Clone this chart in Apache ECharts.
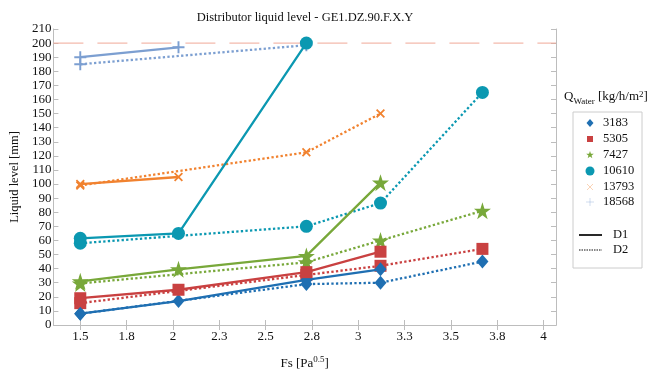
<!DOCTYPE html>
<html>
<head>
<meta charset="utf-8">
<script src="https://cdn.jsdelivr.net/npm/echarts@6/dist/echarts.min.js"></script>
<style>
  html, body { margin: 0; padding: 0; background: #fff; }
  #chart { width: 647px; height: 375px; }
</style>
</head>
<body>
<div id="chart"></div>
<script>
// Fs values where the level was measured
const fs = [1.5, 2.03, 2.72, 3.12, 3.67];
const xTickValues = [1.5, 1.75, 2, 2.25, 2.5, 2.75, 3, 3.25, 3.5, 3.75, 4];
const xTickLabels = ['1.5', '1.8', '2', '2.3', '2.5', '2.8', '3', '3.3', '3.5', '3.8', '4'];
const xMin = 1.355, xMax = 4.067;

const qWater = ['3183', '5305', '7427', '10610', '13793', '18568'];
const lineTypes = ['D1', 'D2'];

// D1 (solid), one array per water load, null = not measured
const d1_3183 = [8, 17, 32, 39.5, null];
const d1_5305 = [19, 25, 37.5, 52, null];
const d1_7427 = [31, 39.5, 49, 101, null];
const d1_10610 = [61.5, 65, 200, null, null];
const d1_13793 = [100, 105, null, null, null];
const d1_18568 = [190, 197, null, null, null];

// D2 (dotted)
const d2_3183 = [8, null, 29, 30, 45];
const d2_5305 = [15.5, null, 35.5, 42, 54];
const d2_7427 = [29.5, null, 44.5, 60, 81];
const d2_10610 = [58, null, 70, 86.5, 165];
const d2_13793 = [99, null, 122.5, 150, null];
const d2_18568 = [185, null, 198.5, null, null];

const limitLevel = 200;

const d1 = [d1_3183, d1_5305, d1_7427, d1_10610, d1_13793, d1_18568];
const d2 = [d2_3183, d2_5305, d2_7427, d2_10610, d2_13793, d2_18568];

const colors = ['#1f6fb2', '#c94141', '#78a83a', '#0b98b1', '#f1822f', '#7c9fd1'];
const STAR = 'path://M50,0L61.2,34.5L97.6,34.5L68.2,55.9L79.4,90.5L50,69.1L20.6,90.5L31.8,55.9L2.4,34.5L38.8,34.5Z';
const CROSS = 'path://M0,14L14,0L50,36L86,0L100,14L64,50L100,86L86,100L50,64L14,100L0,86L36,50Z';
const PLUS = 'path://M42,0H58V42H100V58H58V100H42V58H0V42H42Z';
const symbols = ['diamond', 'rect', STAR, 'circle', CROSS, PLUS];
const symbolSizes = [[12, 14], 12, 17, 13, 9, 12];

const serif = 'Liberation Serif';
const limitColor = '#f0a898';

function pairs(vals) {
  return fs.map((x, i) => [x, vals[i]]).filter(p => p[1] != null);
}

const series = [{
  name: 'limit',
  type: 'line',
  data: [[xMin, limitLevel], [xMax, limitLevel]],
  symbol: 'none',
  silent: true,
  z: 1,
  lineStyle: { color: limitColor, width: 1, type: [30, 14] }
}];

qWater.forEach((q, i) => {
  [d1[i], d2[i]].forEach((vals, k) => {
    series.push({
      name: q + ' ' + lineTypes[k],
      type: 'line',
      data: pairs(vals),
      symbol: symbols[i],
      symbolSize: symbolSizes[i],
      showAllSymbol: true,
      color: colors[i],
      lineStyle: { width: 2.3, type: k === 0 ? 'solid' : [2.3, 2.3], color: colors[i] },
      itemStyle: { color: colors[i] },
      z: k === 0 ? 3 : 2
    });
  });
});

// legend drawn by hand (MATLAB style box)
function starPoints(cx, cy, R) {
  const pts = [];
  for (let j = 0; j < 10; j++) {
    const r = j % 2 === 0 ? R : R * 0.4;
    const a = -Math.PI / 2 + j * Math.PI / 5;
    pts.push([cx + r * Math.cos(a), cy + r * Math.sin(a)]);
  }
  return pts;
}

const legX = 590, textX = 603;
const rowY = [123, 139, 155, 171, 187, 202];
const legendGraphics = [
  { type: 'rect', shape: { x: 573, y: 112, width: 69, height: 156 },
    style: { fill: '#fff', stroke: '#cccccc', lineWidth: 1 } },
  { type: 'text', x: 564, y: 97,
    style: {
      text: '{q|Q}{sub|Water}{q| [kg/h/m}{sup|2}{q|]}',
      verticalAlign: 'middle',
      rich: {
        q: { fontFamily: serif, fontSize: 13, fill: '#111', lineHeight: 20, verticalAlign: 'middle' },
        sub: { fontFamily: serif, fontSize: 9, fill: '#111', lineHeight: 20, verticalAlign: 'bottom', padding: [0, 0, 1, 0] },
        sup: { fontFamily: serif, fontSize: 9, fill: '#111', lineHeight: 20, verticalAlign: 'top', padding: [3, 0, 0, 0] }
      }
    } }
];

qWater.forEach((q, i) => {
  const y = rowY[i];
  const faded = i >= 4;
  const c = colors[i];
  let m;
  if (i === 0) m = { type: 'polygon', shape: { points: [[legX, y - 4], [legX + 3.5, y], [legX, y + 4], [legX - 3.5, y]] }, style: { fill: c } };
  else if (i === 1) m = { type: 'rect', shape: { x: legX - 3, y: y - 3, width: 6, height: 6 }, style: { fill: c } };
  else if (i === 2) m = { type: 'polygon', shape: { points: starPoints(legX, y, 4) }, style: { fill: c } };
  else if (i === 3) m = { type: 'circle', shape: { cx: legX, cy: y, r: 4.5 }, style: { fill: c } };
  else if (i === 4) m = { type: 'group', children: [
    { type: 'line', shape: { x1: legX - 3, y1: y - 3, x2: legX + 3, y2: y + 3 }, style: { stroke: c, lineWidth: 1 } },
    { type: 'line', shape: { x1: legX - 3, y1: y + 3, x2: legX + 3, y2: y - 3 }, style: { stroke: c, lineWidth: 1 } }] };
  else m = { type: 'group', children: [
    { type: 'line', shape: { x1: legX - 4, y1: y, x2: legX + 4, y2: y }, style: { stroke: c, lineWidth: 1 } },
    { type: 'line', shape: { x1: legX, y1: y - 4, x2: legX, y2: y + 4 }, style: { stroke: c, lineWidth: 1 } }] };
  if (faded) m.children.forEach(ch => { ch.style.opacity = 0.35; });
  legendGraphics.push(m);
  legendGraphics.push({ type: 'text', x: textX, y: y,
    style: { text: q, fontFamily: serif, fontSize: 12.5, fill: '#111', verticalAlign: 'middle' } });
});

[235, 250].forEach((y, k) => {
  legendGraphics.push({ type: 'line', shape: { x1: 579, y1: y, x2: 602, y2: y },
    style: { stroke: '#111', lineWidth: k === 0 ? 1.8 : 1.2, lineDash: k === 0 ? null : [1.5, 1] } });
  legendGraphics.push({ type: 'text', x: 613, y: y,
    style: { text: lineTypes[k], fontFamily: serif, fontSize: 12.5, fill: '#111', verticalAlign: 'middle' } });
});

const boxColor = '#bdbdbd';
const tickIn = { show: true, inside: true, length: 5, lineStyle: { color: boxColor } };

function xLabel(v) {
  const idx = xTickValues.findIndex(t => Math.abs(t - v) < 1e-6);
  return idx >= 0 ? xTickLabels[idx] : '';
}

const chart = echarts.init(document.getElementById('chart'), null, { renderer: 'canvas' });
chart.setOption({
  animation: false,
  title: {
    text: 'Distributor liquid level - GE1.DZ.90.F.X.Y',
    left: 300,
    textAlign: 'center',
    top: 6,
    textStyle: { fontFamily: serif, fontSize: 12.5, fontWeight: 'normal', color: '#111' }
  },
  grid: { left: 44.5, right: 91, top: 29, bottom: 34.5, containLabel: false },
  xAxis: [{
    type: 'value',
    min: xMin,
    max: xMax,
    name: 'Fs [Pa{sup|0.5}]',
    nameLocation: 'middle',
    nameGap: 30,
    nameTextStyle: {
      fontFamily: serif, fontSize: 13, color: '#111',
      rich: { sup: { fontFamily: serif, fontSize: 9, color: '#111', verticalAlign: 'top', padding: [0, 0, 8, 0] } }
    },
    axisLine: { show: true, lineStyle: { color: boxColor } },
    axisTick: Object.assign({ customValues: xTickValues }, tickIn),
    axisLabel: { customValues: xTickValues, formatter: xLabel, fontFamily: serif, fontSize: 13, color: '#111', margin: 5 },
    splitLine: { show: false }
  }, {
    type: 'value',
    position: 'top',
    min: xMin,
    max: xMax,
    axisLine: { show: true, lineStyle: { color: boxColor } },
    axisTick: Object.assign({ customValues: xTickValues }, tickIn),
    axisLabel: { show: false },
    splitLine: { show: false }
  }],
  yAxis: [{
    type: 'value',
    min: 0,
    max: 210,
    interval: 10,
    name: 'Liquid level [mm]',
    nameLocation: 'middle',
    nameGap: 30,
    nameTextStyle: { fontFamily: serif, fontSize: 12.5, color: '#111' },
    axisLine: { show: true, lineStyle: { color: boxColor } },
    axisTick: tickIn,
    axisLabel: { fontFamily: serif, fontSize: 13, color: '#111', margin: 2 },
    splitLine: { show: false }
  }, {
    type: 'value',
    position: 'right',
    min: 0,
    max: 210,
    interval: 10,
    axisLine: { show: true, lineStyle: { color: boxColor } },
    axisTick: tickIn,
    axisLabel: { show: false },
    splitLine: { show: false }
  }],
  graphic: legendGraphics,
  series: series
});
</script>
</body>
</html>
